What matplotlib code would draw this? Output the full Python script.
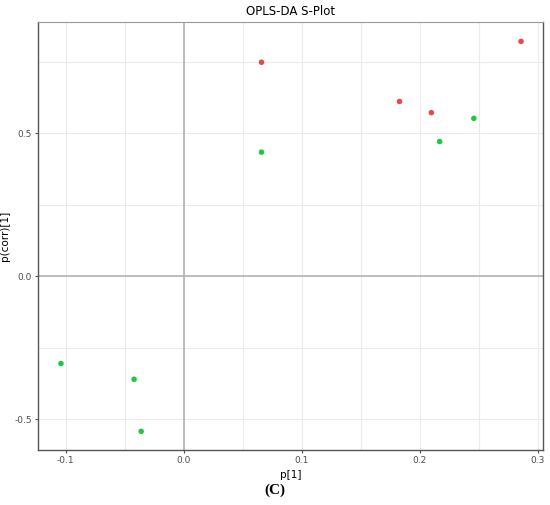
import numpy as np
import matplotlib
matplotlib.use('Agg')
import matplotlib.pyplot as plt

#
red_x = [0.066, 0.183, 0.210, 0.286]
red_y = [0.748, 0.611, 0.572, 0.821]
green_x = [0.066, 0.217, 0.246, -0.104, -0.042, -0.036]
green_y = [0.434, 0.471, 0.552, -0.305, -0.360, -0.542]
x_ticks = [-0.1, 0.0, 0.1, 0.2, 0.3]
y_ticks = [-0.5, 0.0, 0.5]

fig = plt.figure(figsize=(5.5, 5.05), dpi=100)
ax = fig.add_axes([0.069, 0.109, 0.918, 0.847])

ax.set_xlim(-0.1235, 0.3045)
ax.set_ylim(-0.607, 0.888)

# light grid, major and minor
for v in np.arange(-0.1, 0.31, 0.05):
    ax.axvline(v, color='#ebebeb', lw=0.8, zorder=0)
for v in np.arange(-0.5, 0.8, 0.25):
    ax.axhline(v, color='#ebebeb', lw=0.8, zorder=0)
ax.axvline(0, color='#b3b3b3', lw=1.2, zorder=1)
ax.axhline(0, color='#b3b3b3', lw=1.2, zorder=1)

ax.scatter(red_x, red_y, s=16, color='#e8474b', edgecolors='none', zorder=3)
ax.scatter(green_x, green_y, s=16, color='#1fc93f', edgecolors='none', zorder=3)

ax.set_xticks(x_ticks)
ax.set_xticklabels(['-0.1', '0.0', '0.1', '0.2', '0.3'])
ax.set_yticks(y_ticks)
ax.set_yticklabels(['-0.5', '0.0', '0.5'])
ax.tick_params(labelsize=6.5, colors='#4d4d4d', length=2.5, width=0.8, pad=2)

for side in ['left', 'bottom', 'right']:
    ax.spines[side].set_color('#555555')
    ax.spines[side].set_linewidth(1.0)
ax.spines['top'].set_color('#999999')

ax.set_title('OPLS-DA S-Plot', fontsize=8.5, pad=5)
ax.set_xlabel('p[1]', fontsize=7.5)
ax.set_ylabel('p(corr)[1]', fontsize=7.5)
ax.xaxis.set_label_coords(0.5, -0.047)
ax.yaxis.set_label_coords(-0.056, 0.5)

fig.text(0.5, 0.030, '(C)', fontsize=11, fontweight='bold',
         family='Liberation Serif', ha='center', va='center')

plt.savefig('out.png', dpi=100)
